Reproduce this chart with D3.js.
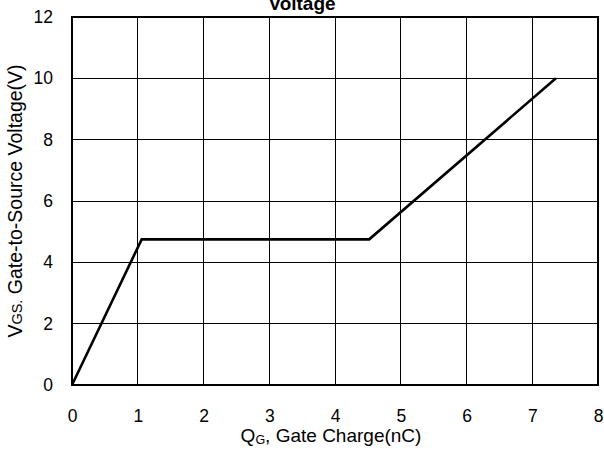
<!DOCTYPE html>
<html>
<head>
<meta charset="utf-8">
<script src="https://cdn.jsdelivr.net/npm/d3@7"></script>
<style>
  body { margin: 0; background: #fff; }
  svg { display: block; font-family: "Liberation Sans", Arial, sans-serif; }
</style>
</head>
<body>
<div id="chart"></div>
<script>
const WIDTH = 604, HEIGHT = 449;
const LEFT = 72, RIGHT = 598, TOP = 17, BOTTOM = 385;

// data
var qg = [0, 1.06, 4.52, 7.36];
var vgs = [0, 4.75, 4.75, 10];
var xTicks = [0, 1, 2, 3, 4, 5, 6, 7, 8];
var yTicks = [0, 2, 4, 6, 8, 10, 12];

var svg = d3.select('#chart').append('svg')
    .attr('width', WIDTH)
    .attr('height', HEIGHT);

var xScale = d3.scaleLinear().domain([0, 8]).range([LEFT, RIGHT]);
var yScale = d3.scaleLinear().domain([0, 12]).range([BOTTOM, TOP]);

// grid
svg.append('g').selectAll('line')
    .data(xTicks)
    .enter()
    .append('line')
    .attr('x1', function (d) { return xScale(d); })
    .attr('x2', function (d) { return xScale(d); })
    .attr('y1', TOP)
    .attr('y2', BOTTOM)
    .attr('stroke', '#000')
    .attr('stroke-width', 1)
    .attr('shape-rendering', 'crispEdges');

svg.append('g').selectAll('line')
    .data(yTicks)
    .enter()
    .append('line')
    .attr('y1', function (d) { return yScale(d); })
    .attr('y2', function (d) { return yScale(d); })
    .attr('x1', LEFT)
    .attr('x2', RIGHT)
    .attr('stroke', '#000')
    .attr('stroke-width', 1)
    .attr('shape-rendering', 'crispEdges');

svg.append('rect')
    .attr('x', LEFT)
    .attr('y', TOP)
    .attr('width', RIGHT - LEFT)
    .attr('height', BOTTOM - TOP)
    .attr('fill', 'none')
    .attr('stroke', '#000')
    .attr('stroke-width', 1.2)
    .attr('shape-rendering', 'crispEdges');

// tick labels
var xAxis = d3.axisBottom(xScale).tickValues(xTicks).tickSize(0).tickPadding(25);
svg.append('g')
    .attr('transform', 'translate(0,' + BOTTOM + ')')
    .call(xAxis)
    .call(function (g) { g.select('.domain').remove(); })
    .selectAll('text')
    .attr('font-size', 17.5)
    .attr('font-family', '"Liberation Sans", Arial, sans-serif')
    .attr('fill', '#000');

var yAxis = d3.axisLeft(yScale).tickValues(yTicks).tickSize(0).tickPadding(19);
svg.append('g')
    .attr('transform', 'translate(' + LEFT + ',0)')
    .call(yAxis)
    .call(function (g) { g.select('.domain').remove(); })
    .selectAll('text')
    .attr('font-size', 17.5)
    .attr('font-family', '"Liberation Sans", Arial, sans-serif')
    .attr('fill', '#000');

// curve
var line = d3.line()
    .x(function (d, i) { return xScale(qg[i]); })
    .y(function (d) { return yScale(d); });

svg.append('path')
    .attr('d', line(vgs))
    .attr('fill', 'none')
    .attr('stroke', '#000')
    .attr('stroke-width', 2.6);

// title (cut off at top, as in the original)
svg.append('text')
    .attr('x', 302)
    .attr('y', 10)
    .attr('text-anchor', 'middle')
    .attr('font-size', 19)
    .attr('font-weight', 'bold')
    .text('Voltage');

// x label
var xl = svg.append('text')
    .attr('x', 331)
    .attr('y', 442)
    .attr('text-anchor', 'middle')
    .attr('font-size', 19);
xl.append('tspan').text('Q');
xl.append('tspan').attr('font-size', 12.5).attr('dy', 2).text('G');
xl.append('tspan').attr('dy', -2).text(', Gate Charge(nC)');

// y label
var yl = svg.append('text')
    .attr('transform', 'translate(22,201) rotate(-90)')
    .attr('text-anchor', 'middle')
    .attr('font-size', 19.5);
yl.append('tspan').text('V');
yl.append('tspan').attr('font-size', 14.5).text('GS.');
yl.append('tspan').text(' Gate-to-Source Voltage(V)');
</script>
</body>
</html>
